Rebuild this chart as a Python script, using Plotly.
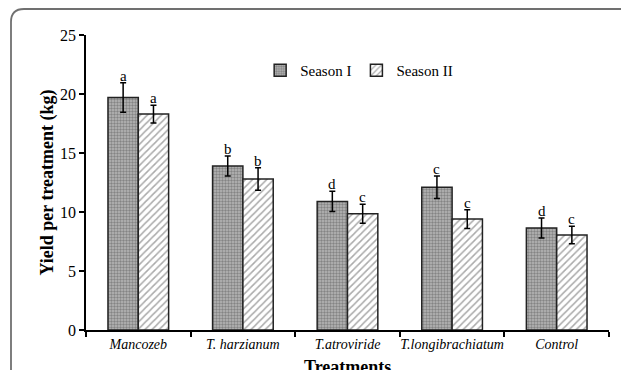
import plotly.graph_objects as go

treatments = ["Mancozeb", "T. harzianum", "T.atroviride", "T.longibrachiatum", "Control"]
season1 = [19.7, 13.9, 10.9, 12.1, 8.65]
season1_err = [1.25, 0.85, 0.85, 0.95, 0.85]
season2 = [18.3, 12.8, 9.85, 9.4, 8.05]
season2_err = [0.75, 0.95, 0.8, 0.8, 0.75]
letters1 = ["a", "b", "d", "c", "d"]
letters2 = ["a", "b", "c", "c", "c"]
yticks = [0, 5, 10, 15, 20, 25]

SERIF = "Liberation Serif"

fig = go.Figure()
fig.add_trace(go.Bar(
    name="Season I", x=treatments, y=season1,
    error_y=dict(type="data", array=season1_err, color="black", thickness=1.5, width=3),
    marker=dict(color="#a6a6a6", line=dict(color="#222222", width=1.5),
                pattern=dict(shape=".", bgcolor="#b8b8b8", fgcolor="#505050",
                             size=3, solidity=0.5)),
))
fig.add_trace(go.Bar(
    name="Season II", x=treatments, y=season2,
    error_y=dict(type="data", array=season2_err, color="black", thickness=1.5, width=3),
    marker=dict(color="white", line=dict(color="#222222", width=1.5),
                pattern=dict(shape="/", bgcolor="white", fgcolor="#555555",
                             size=5, solidity=0.3)),
))

off = 0.145
for i in range(len(treatments)):
    fig.add_annotation(x=i - off, y=season1[i] + season1_err[i], text=letters1[i],
                       showarrow=False, yanchor="bottom", yshift=-3,
                       font=dict(family=SERIF, size=15, color="black"))
    fig.add_annotation(x=i + off, y=season2[i] + season2_err[i], text=letters2[i],
                       showarrow=False, yanchor="bottom", yshift=-3,
                       font=dict(family=SERIF, size=15, color="black"))

# rounded outer frame (paper coords: plot area 523 x 295 px; window px -> paper)
W, H = 523.0, 295.0
def px(xp):
    return (xp - 86) / W
def py(yp):
    return (330 - yp) / H
L, T, R, B = px(11), py(9), px(631), py(400)
rx, ry = 13 / W, 13 / H
rx2, ry2 = 5 / W, 5 / H
path = (f"M {L},{B} L {L},{T-ry} Q {L},{T} {L+rx},{T} "
        f"L {R-rx2},{T} Q {R},{T} {R},{T-ry2} L {R},{B}")
fig.add_shape(type="path", path=path, xref="paper", yref="paper",
              line=dict(color="#707070", width=1.8), layer="above")

# x-axis title placed below the margin, partly cut by the page edge as in the original
fig.add_annotation(x=0.5, y=py(355), xref="paper", yref="paper", yanchor="top",
                   text="<b>Treatments</b>", showarrow=False,
                   font=dict(family=SERIF, size=18, color="black"))

# page body has an 8px margin, so the figure is 621x362 and offset by 8px
fig.update_layout(
    width=621, height=362,
    margin=dict(l=78, r=20, t=27, b=40, autoexpand=False),
    paper_bgcolor="white", plot_bgcolor="white",
    barmode="group", bargap=0.42, bargroupgap=0,
    font=dict(family=SERIF, color="black"),
    showlegend=True,
    legend=dict(orientation="h", x=0.333, y=0.88, xanchor="left", yanchor="middle",
                font=dict(family=SERIF, size=15, color="black"),
                bgcolor="rgba(0,0,0,0)", itemwidth=30, traceorder="normal"),
    xaxis=dict(showline=True, linecolor="black", linewidth=1.5,
               ticks="outside", tickson="boundaries", ticklen=5, tickwidth=1.5,
               tickcolor="black", tickangle=0, automargin=False,
               tickfont=dict(family=SERIF, size=14, color="black", style="italic"),
               showgrid=False, zeroline=False),
    yaxis=dict(range=[0, 25], tickvals=yticks, showline=True, linecolor="black",
               linewidth=1.5, ticks="outside", ticklen=5, tickwidth=1.5,
               tickcolor="black", automargin=False,
               tickfont=dict(family=SERIF, size=16, color="black"),
               title=dict(text="<b>Yield per treatment (kg)</b>", standoff=2,
                          font=dict(family=SERIF, size=18, color="black")),
               showgrid=False, zeroline=False),
)

fig.write_html("out.html")
